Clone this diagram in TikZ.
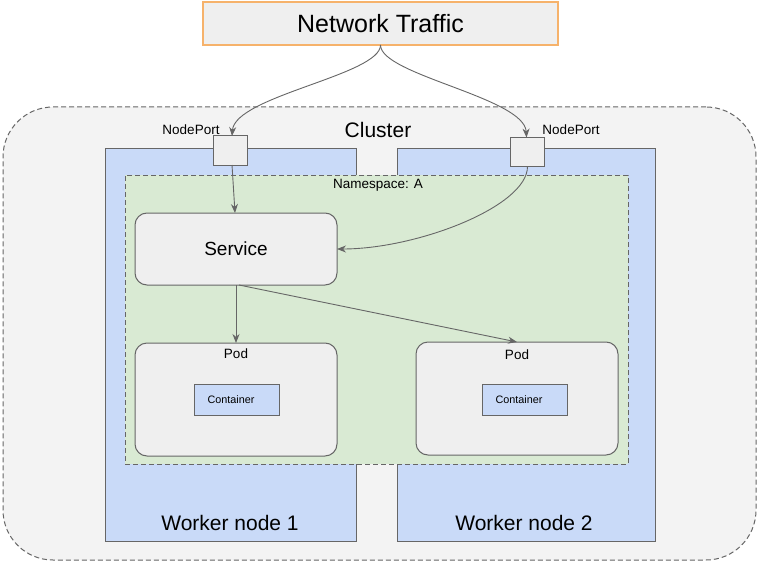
\documentclass[tikz,border=0pt]{standalone}
\usepackage{fontspec}
\setmainfont{Liberation Sans}
\usetikzlibrary{arrows.meta,calc}
\definecolor{bordergray}{HTML}{666666}
\definecolor{boxgray}{HTML}{EFEFEF}
\definecolor{clustergray}{HTML}{F3F3F3}
\definecolor{workerblue}{HTML}{C9DAF8}
\definecolor{nsgreen}{HTML}{D9EAD3}
\definecolor{trafficorange}{HTML}{F6B26B}
\tikzset{
  base/.style={inner sep=0pt, outer sep=0pt, line width=1pt},
  trafficbox/.style={base, draw=trafficorange, line width=1.6pt, fill=boxgray},
  clusterbox/.style={base, draw=bordergray, fill=clustergray, dashed, dash pattern=on 5pt off 3pt, rounded corners=50pt},
  workerbox/.style={base, draw=bordergray, fill=workerblue},
  nsbox/.style={base, draw=bordergray, fill=nsgreen, dash pattern=on 5pt off 3pt},
  portbox/.style={base, draw=bordergray, fill=boxgray},
  roundbox/.style={base, draw=bordergray, fill=boxgray, rounded corners=12pt},
  contbox/.style={base, draw=bordergray, fill=workerblue},
  lbl/.style={inner sep=0pt, text=black},
  flow/.style={draw=bordergray, line width=0.9pt, -{Stealth[length=9pt,width=7pt]}},
}
\begin{document}
\begin{tikzpicture}[x=1pt,y=-1pt]
\useasboundingbox[fill=white] (0,0) rectangle (759,564);
\node[clusterbox, minimum width=753pt, minimum height=453pt] (cluster) at (379.5,333.5) {};
\node[workerbox, minimum width=251pt, minimum height=392pt] (w1) at (230.5,345) {};
\node[workerbox, minimum width=258pt, minimum height=392pt] (w2) at (526,345) {};
\node[nsbox, minimum width=503pt, minimum height=289pt] (ns) at (376.5,319.5) {};
\node[trafficbox, minimum width=355pt, minimum height=43pt] (traffic) at (380.5,23.5) {};
\node[lbl, font=\fontsize{25}{28}\selectfont] (traffictxt) at (380.5,24) {Network Traffic};
\node[lbl, font=\fontsize{21}{24}\selectfont] (clustertxt) at (378,130) {Cluster};
\node[portbox, minimum width=34pt, minimum height=29pt] (np1) at (230,150.5) {};
\node[portbox, minimum width=34pt, minimum height=29pt] (np2) at (527.5,152) {};
\node[lbl, font=\fontsize{13.5}{16}\selectfont] (np1txt) at (191,130) {NodePort};
\node[lbl, font=\fontsize{13.5}{16}\selectfont] (np2txt) at (571,130) {NodePort};
\node[lbl, font=\fontsize{13.5}{16}\selectfont] (nstxt) at (378,185) {Namespace: A};
\node[roundbox, minimum width=202pt, minimum height=72pt] (svc) at (236,249) {};
\node[lbl, font=\fontsize{19}{22}\selectfont] (svctxt) at (236,249) {Service};
\node[roundbox, minimum width=202pt, minimum height=113pt] (pod1) at (236,399.5) {};
\node[roundbox, minimum width=202pt, minimum height=113pt] (pod2) at (517,398.5) {};
\node[lbl, font=\fontsize{13.5}{16}\selectfont] (pod1txt) at (236,354) {Pod};
\node[lbl, font=\fontsize{13.5}{16}\selectfont] (pod2txt) at (517,355) {Pod};
\node[contbox, minimum width=85pt, minimum height=31pt] (c1) at (236.5,399.5) {};
\node[contbox, minimum width=85pt, minimum height=31pt] (c2) at (524.5,399.5) {};
\node[lbl, font=\fontsize{10.8}{12}\selectfont] (c1txt) at (231,399.5) {Container};
\node[lbl, font=\fontsize{10.8}{12}\selectfont] (c2txt) at (519,399.5) {Container};
\node[lbl, font=\fontsize{21}{24}\selectfont] (w1txt) at (230,523) {Worker node 1};
\node[lbl, font=\fontsize{21}{24}\selectfont] (w2txt) at (524,523) {Worker node 2};
% connectors
\draw[flow] (traffic.south) .. controls ($(traffic.south)+(0,30)$) and ($(np1.north)+(5,-40)$) .. ($(np1.north)+(2,0)$);
\draw[flow] (traffic.south) .. controls ($(traffic.south)+(0,30)$) and ($(np2.north)+(-3,-40)$) .. ($(np2.north)+(-1,0)$);
\draw[flow] ($(np1.south)+(2,0)$) -- ($(svc.north)+(-1,0)$);
\draw[flow] (np2.south) .. controls ($(np2.south)+(0,40)$) and ($(svc.east)+(80,0)$) .. (svc.east);
\draw[flow] (svc.south) -- (pod1.north);
\draw[flow] ($(svc.south)+(3,0)$) -- (pod2.north);
\end{tikzpicture}
\end{document}
